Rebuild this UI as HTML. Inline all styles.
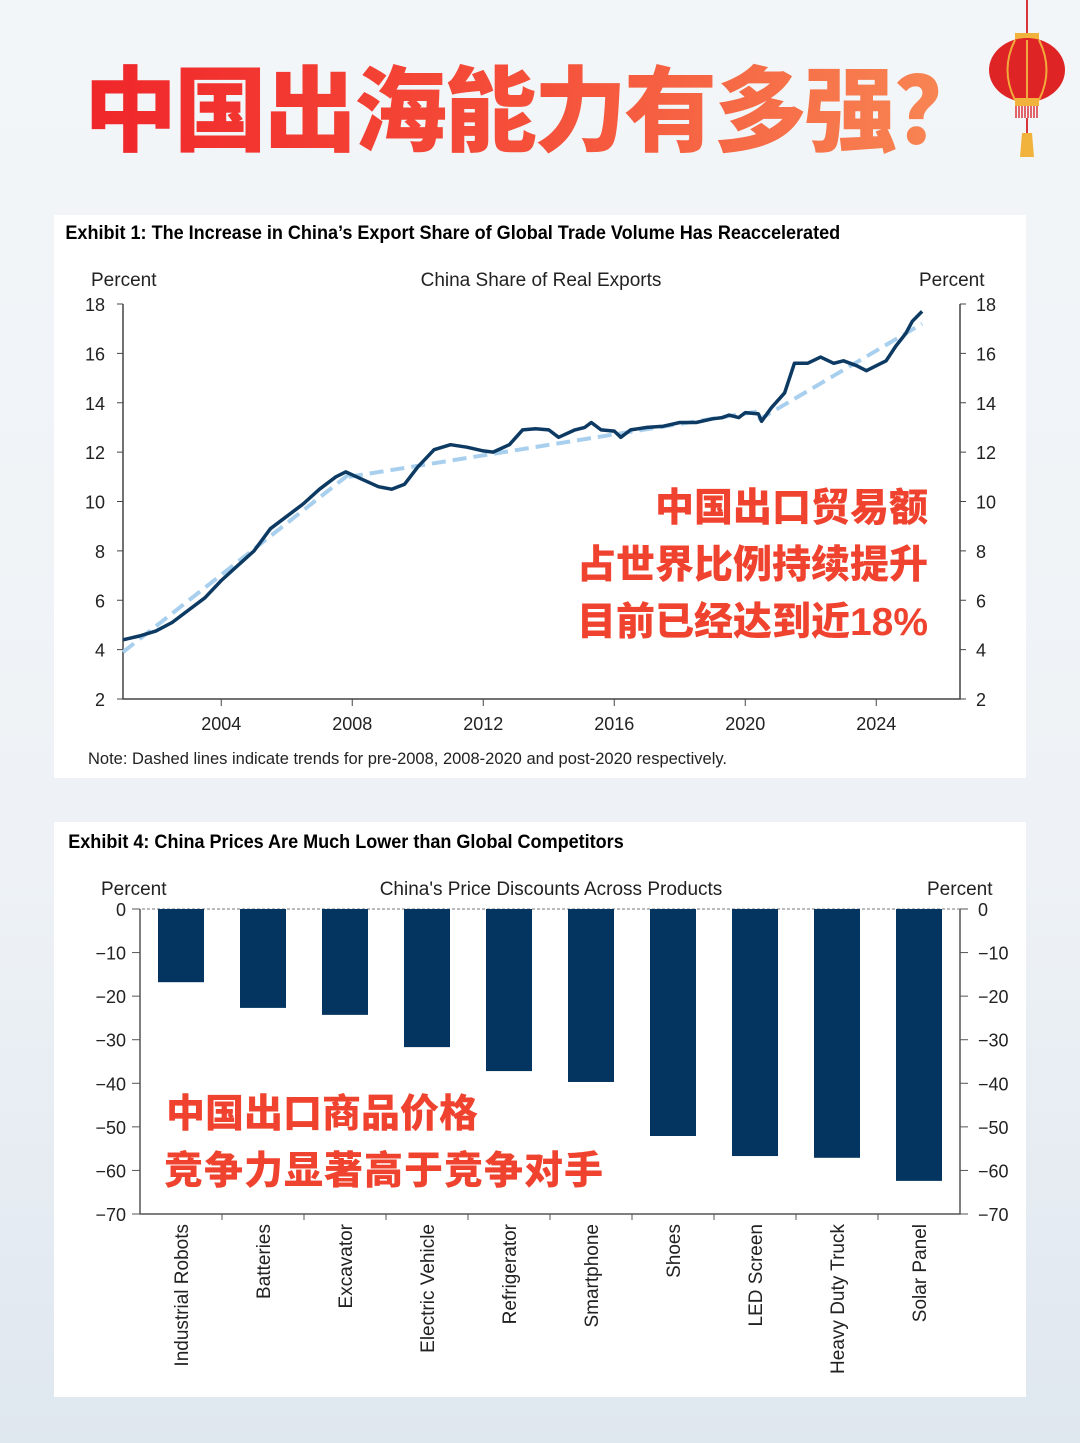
<!DOCTYPE html>
<html><head><meta charset="utf-8">
<style>
html,body{margin:0;padding:0}
body{width:1080px;height:1443px;position:relative;overflow:hidden;background:linear-gradient(180deg,#f3f6f9 0%,#eef2f6 60%,#dfe7ef 100%);font-family:"Liberation Sans","Noto Sans CJK SC",sans-serif}
.title{position:absolute;left:84px;top:44px;font-family:"Noto Sans CJK SC",sans-serif;font-weight:900;font-size:93px;letter-spacing:-3px;line-height:120px;background:linear-gradient(90deg,#f0262a 0%,#f5503a 50%,#f88a55 100%);-webkit-background-clip:text;background-clip:text;color:transparent;white-space:nowrap}
.panel{position:absolute;left:54px;width:972px;background:#fff}
svg text{font-family:"Liberation Sans","Noto Sans CJK SC",sans-serif}
</style></head><body>
<div class="title">中国出海能力有多强？</div>
<svg style="position:absolute;left:985px;top:0" width="85" height="165">
<line x1="42" y1="0" x2="42" y2="33" stroke="#d9343a" stroke-width="2"/>
<rect x="30" y="33" width="24" height="8" fill="#f2b33d"/>
<ellipse cx="42" cy="70" rx="38" ry="32" fill="#de2424"/>
<path d="M42 40 V100 M30 40 Q15 70 30 100 M54 40 Q69 70 54 100" stroke="#f2a93b" stroke-width="2" fill="none"/>
<rect x="30" y="98" width="24" height="8" fill="#f2b33d"/>
<path d="M31 106v12M34 106v12M37 106v12M40 106v12M43 106v12M46 106v12M49 106v12M52 106v12" stroke="#d9343a" stroke-width="1.5"/>
<line x1="42" y1="118" x2="42" y2="133" stroke="#d9343a" stroke-width="2"/>
<path d="M37 133h10l2 24h-14z" fill="#f2b33d"/>
</svg>

<div class="panel" style="top:215px;height:563px">
<svg width="972" height="563" id="lineSvg">
<text x="12" y="24" font-size="19" font-weight="bold" transform="scale(0.95,1)">Exhibit 1: The Increase in China’s Export Share of Global Trade Volume Has Reaccelerated</text>
<text x="37" y="71" font-size="19" fill="#222">Percent</text>
<text x="487" y="71" font-size="19" fill="#222" text-anchor="middle">China Share of Real Exports</text>
<text x="865" y="71" font-size="19" fill="#222">Percent</text>
<text x="34" y="549" font-size="16.5" fill="#222">Note: Dashed lines indicate trends for pre-2008, 2008-2020 and post-2020 respectively.</text>
<g id="lineG"></g>
<text x="874" y="306" font-size="39" font-weight="900" text-anchor="end" fill="#f0432f" font-family="Noto Sans CJK SC,sans-serif">中国出口贸易额</text>
<text x="874" y="363" font-size="39" font-weight="900" text-anchor="end" fill="#f0432f" font-family="Noto Sans CJK SC,sans-serif">占世界比例持续提升</text>
<text x="874" y="420" font-size="39" font-weight="900" text-anchor="end" fill="#f0432f" font-family="Noto Sans CJK SC,sans-serif">目前已经达到近18%</text>
</svg></div>

<div class="panel" style="top:822px;height:575px">
<svg width="972" height="575">
<text x="15" y="26" font-size="19" font-weight="bold" transform="scale(0.95,1)">Exhibit 4: China Prices Are Much Lower than Global Competitors</text>
<text x="47" y="73" font-size="19" fill="#222">Percent</text>
<text x="497" y="73" font-size="19" fill="#222" text-anchor="middle">China's Price Discounts Across Products</text>
<text x="873" y="73" font-size="19" fill="#222">Percent</text>
<g id="barG"></g>
<text x="112" y="305" font-size="39" font-weight="900" fill="#f0432f" font-family="Noto Sans CJK SC,sans-serif">中国出口商品价格</text>
<text x="110" y="362" font-size="39" font-weight="900" letter-spacing="1" fill="#f0432f" font-family="Noto Sans CJK SC,sans-serif">竞争力显著高于竞争对手</text>
</svg></div>

<script>
// Line chart data
const years = [2001.0,2001.5,2002,2002.5,2003,2003.5,2004,2004.5,2005,2005.5,2006,2006.5,2007,2007.5,2007.8,2008.3,2008.8,2009.2,2009.6,2010,2010.5,2011,2011.5,2012,2012.3,2012.8,2013.2,2013.6,2014,2014.3,2014.8,2015.1,2015.3,2015.6,2016,2016.2,2016.5,2017,2017.5,2018,2018.5,2019,2019.3,2019.5,2019.8,2020.0,2020.4,2020.5,2020.8,2021.2,2021.5,2021.9,2022.3,2022.7,2023.0,2023.4,2023.7,2024.0,2024.3,2024.6,2024.9,2025.1,2025.4];
const shares = [4.4,4.55,4.75,5.1,5.6,6.1,6.8,7.4,8.0,8.9,9.4,9.9,10.5,11.0,11.2,10.9,10.6,10.5,10.7,11.4,12.1,12.3,12.2,12.05,12.0,12.3,12.9,12.95,12.9,12.6,12.9,13.0,13.2,12.9,12.85,12.6,12.9,13.0,13.05,13.2,13.2,13.35,13.4,13.5,13.4,13.6,13.55,13.25,13.8,14.4,15.6,15.6,15.85,15.6,15.7,15.5,15.3,15.5,15.7,16.3,16.8,17.3,17.7];
const trendX = [[2001.0,2007.9],[2007.9,2020.4],[2020.4,2025.4]];
const trendY = [[3.9,11.1],[11.0,13.65],[13.3,17.2]];
const yTicksL = [2,4,6,8,10,12,14,16,18];
const xTicks = [2004,2008,2012,2016,2020,2024];

const NS="http://www.w3.org/2000/svg";
function mk(g,tag,attrs){const e=document.createElementNS(NS,tag);for(const k in attrs)e.setAttribute(k,attrs[k]);g.appendChild(e);return e;}
const L=69,R=906,T=89,B=484;
const xs=y=>L+(y-2001)*(131/4);
const ys=v=>B-(v-2)*(B-T)/16;
const lg=document.getElementById('lineG');
let a=mk(lg,'path',{d:`M${L} ${T}V${B}H${R}V${T}`,stroke:'#444',fill:'none','stroke-width':1.5});


yTicksL.forEach(v=>{
  mk(lg,'line',{x1:L-6,x2:L,y1:ys(v),y2:ys(v),stroke:'#444'});
  mk(lg,'line',{x1:R,x2:R+6,y1:ys(v),y2:ys(v),stroke:'#444'});
  let t=mk(lg,'text',{x:L-18,y:ys(v)+7,'font-size':18,'text-anchor':'end',fill:'#222'});t.textContent=v;
  
  
  let t2=mk(lg,'text',{x:R+16,y:ys(v)+7,'font-size':18,fill:'#222'});t2.textContent=v;
  
  
});
xTicks.forEach(v=>{
  mk(lg,'line',{x1:xs(v),x2:xs(v),y1:B,y2:B+7,stroke:'#444'});
  let t=mk(lg,'text',{x:xs(v),y:B+31,'font-size':18,'text-anchor':'middle',fill:'#222'});t.textContent=v;
  
  
});
trendX.forEach((tx,i)=>{
  let p=mk(lg,'line',{x1:xs(tx[0]),y1:ys(trendY[i][0]),x2:xs(tx[1]),y2:ys(trendY[i][1]),stroke:'#a8d0ee','stroke-width':4,'stroke-dasharray':'14 7'});
  
  
});
let d=years.map((y,i)=>(i?'L':'M')+xs(y).toFixed(1)+' '+ys(shares[i]).toFixed(1)).join(' ');
let ln=mk(lg,'path',{d:d,stroke:'#0d3a63',fill:'none','stroke-width':3.5,'stroke-linejoin':'round'});



// Bar chart data
const categories=["Industrial Robots","Batteries","Excavator","Electric Vehicle","Refrigerator","Smartphone","Shoes","LED Screen","Heavy Duty Truck","Solar Panel"];
const discounts=[-16.8,-22.7,-24.3,-31.7,-37.2,-39.7,-52.1,-56.7,-57.1,-62.4];
const barTicks=[0,-10,-20,-30,-40,-50,-60,-70];
const bg=document.getElementById('barG');
const BL=86,BR=906,BT=87,BB=392;
const by=v=>BT+(-v)*(BB-BT)/70;
const cw=(BR-BL)/categories.length;
let ax=mk(bg,'path',{d:`M${BL} ${BT}V${BB}H${BR}V${BT}`,stroke:'#555',fill:'none','stroke-width':1.5});


mk(bg,'line',{x1:BL-8,x2:BR+8,y1:by(0),y2:by(0),stroke:'#777','stroke-dasharray':'3 2'});
barTicks.forEach(v=>{
  mk(bg,'line',{x1:BL-8,x2:BL,y1:by(v),y2:by(v),stroke:'#555'});
  mk(bg,'line',{x1:BR,x2:BR+8,y1:by(v),y2:by(v),stroke:'#555'});
  let s=v===0?'0':'\u2212'+(-v);
  let t=mk(bg,'text',{x:BL-14,y:by(v)+7,'font-size':18,'text-anchor':'end',fill:'#222'});t.textContent=s;
  
  
  let t2=mk(bg,'text',{x:BR+18,y:by(v)+7,'font-size':18,fill:'#222'});t2.textContent=s;
  
  
});
categories.forEach((c,i)=>{
  const cx=BL+cw*(i+0.5);
  if(i>0) mk(bg,'line',{x1:BL+cw*i,x2:BL+cw*i,y1:BB,y2:BB+6,stroke:'#555'});
  let r=mk(bg,'rect',{x:cx-23,y:by(0),width:46,height:by(discounts[i])-by(0),fill:'#033560'});
  
  
  let t=mk(bg,'text',{x:0,y:0,'font-size':19,'text-anchor':'end',fill:'#222',transform:`translate(${cx+7},${BB+10}) rotate(-90)`});t.textContent=c;
  
  
});
</script>
</body></html>
